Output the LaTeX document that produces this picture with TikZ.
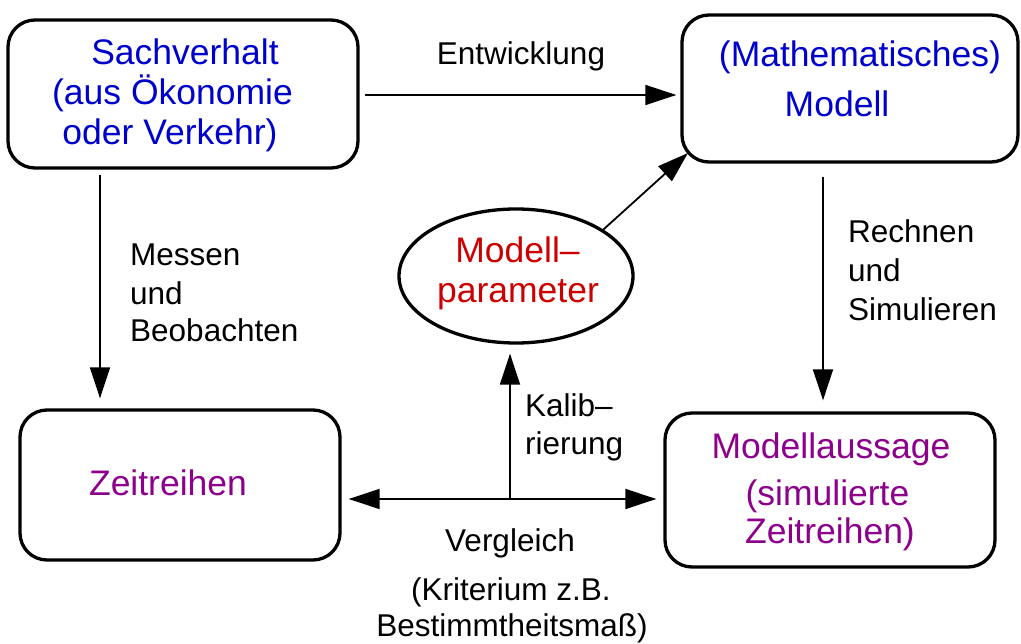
\documentclass[tikz,border=0pt]{standalone}
\usepackage{fontspec}
\setmainfont{Liberation Sans}
\usetikzlibrary{arrows.meta,shapes.geometric}
\definecolor{tblue}{RGB}{0,0,204}
\definecolor{tred}{RGB}{204,0,0}
\definecolor{tpurple}{RGB}{140,0,140}
\begin{document}
\begin{tikzpicture}[x=1pt,y=-1pt,
 box/.style={draw,line width=3.3pt,rounded corners=27pt,inner sep=0pt},
 arr/.style={line width=1.8pt,-{Triangle[length=31pt,width=20pt]}},
 darr/.style={line width=1.8pt,{Triangle[length=31pt,width=20pt]}-{Triangle[length=31pt,width=20pt]}},
 big/.style={font=\fontsize{35.5}{40}\selectfont,anchor=base,inner sep=0pt},
 lab/.style={font=\fontsize{31.5}{37}\selectfont,anchor=base west,inner sep=0pt},
 labc/.style={font=\fontsize{31.5}{37}\selectfont,anchor=base,inner sep=0pt}]
\useasboundingbox (0,0) rectangle (1021,644);

% boxes
\node[box,minimum width=350pt,minimum height=148pt] (sv) at (183,94) {};
\node[box,minimum width=336pt,minimum height=147pt] (mm) at (850,88.5) {};
\node[box,minimum width=320pt,minimum height=150pt] (zr) at (180,485) {};
\node[box,minimum width=330pt,minimum height=154pt] (ma) at (830,490) {};
\node[draw,ellipse,line width=3.3pt,minimum width=234pt,minimum height=134pt,inner sep=0pt] (mp) at (516,276) {};

% box texts
\node[big,text=tblue] (t1) at (185,65) {Sachverhalt};
\node[big,text=tblue] (t2) at (172.5,105) {(aus Ökonomie};
\node[big,text=tblue] (t3) at (170,145) {oder Verkehr)};
\node[big,text=tblue] (t4) at (860,67) {(Mathematisches)};
\node[big,text=tblue] (t5) at (837,117) {Modell};
\node[big,text=tpurple] (t6) at (168,495) {Zeitreihen};
\node[big,text=tpurple] (t7) at (831,458) {Modellaussage};
\node[big,text=tpurple] (t8) at (827.5,505) {(simulierte};
\node[big,text=tpurple] (t9) at (830,543) {Zeitreihen)};
\node[big,text=tred] (t10) at (517.5,263) {Modell–};
\node[big,text=tred] (t11) at (518,303) {parameter};

% labels
\node[labc] (l1) at (521,65) {Entwicklung};
\node[lab] (l2) at (130,266) {Messen};
\node[lab] (l3) at (130,305) {und};
\node[lab] (l4) at (130,342) {Beobachten};
\node[lab] (l5) at (848,243) {Rechnen};
\node[lab] (l6) at (848,282) {und};
\node[lab] (l7) at (848,321) {Simulieren};
\node[lab] (l8) at (525,417) {Kalib–};
\node[lab] (l9) at (525,455) {rierung};
\node[labc] (l10) at (510,551) {Vergleich};
\node[labc] (l11) at (511,600) {(Kriterium z.B.};
\node[labc] (l12) at (512,636) {Bestimmtheitsmaß)};

% helper coordinates
\coordinate (ey) at (0,95);
\coordinate (cx1) at (100,0);
\coordinate (cx2) at (823,0);
\coordinate (hy) at (0,499);
\coordinate (mid) at (510,499);
\coordinate (tipM) at (688,153);

% connectors
\draw[arr,shorten <=5pt,shorten >=4pt] (sv.east |- ey) -- (mm.west |- ey);
\draw[arr,shorten <=5pt,shorten >=10pt] (sv.south -| cx1) -- (zr.north -| cx1);
\draw[arr,shorten <=13pt,shorten >=11pt] (mm.south -| cx2) -- (ma.north -| cx2);
\draw[darr,shorten <=7pt,shorten >=7pt] (zr.east |- hy) -- (ma.west |- hy);
\draw[arr,shorten >=9pt] (mid) -- (mid |- mp.south);
\draw[arr] (mp.28) -- (tipM);
\end{tikzpicture}
\end{document}
